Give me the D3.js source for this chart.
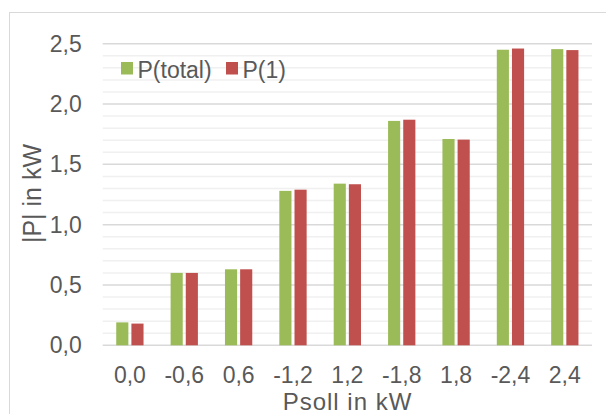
<!DOCTYPE html>
<html>
<head>
<meta charset="utf-8">
<script src="https://cdn.jsdelivr.net/npm/d3@7"></script>
<style>
  html, body { margin: 0; padding: 0; background: #fff; }
  svg { display: block; }
  text { font-family: "Liberation Sans", Arial, sans-serif; fill: #595959; }
</style>
</head>
<body>
<svg id="chart" width="606" height="414"></svg>
<script>
const categories = ["0,0", "-0,6", "0,6", "-1,2", "1,2", "-1,8", "1,8", "-2,4", "2,4"];
const seriesNames = ["P(total)", "P(1)"];
const pTotal = [0.19, 0.60, 0.63, 1.28, 1.34, 1.86, 1.71, 2.45, 2.455];
const p1     = [0.18, 0.60, 0.63, 1.29, 1.335, 1.87, 1.705, 2.46, 2.447];
const yTicks = [0, 0.5, 1.0, 1.5, 2.0, 2.5];
const xTitle = "Psoll in kW";
const yTitle = "|P| in kW";
const colors = ["#9BBB59", "#C0504D"];

const svg = d3.select("#chart");
const plotLeft = 102.7, plotRight = 592, plotTop = 43.7, plotBottom = 345.3;

// outer border
svg.append("rect").attr("x", 9.5).attr("y", 12.5).attr("width", 700).attr("height", 500)
  .attr("fill", "none").attr("stroke", "#d9d9d9").attr("stroke-width", 1);

const x0 = d3.scaleBand().domain(categories).range([plotLeft, plotRight]).padding(0);
const groupW = 27.3;
const x1 = d3.scaleBand().domain(seriesNames)
  .range([(x0.bandwidth() - groupW) / 2, (x0.bandwidth() + groupW) / 2])
  .paddingInner(0.2).paddingOuter(0);
const y = d3.scaleLinear().domain([0, 2.5]).range([plotBottom, plotTop]);

// minor gridlines
const minor = d3.range(1, 25).map(d => d / 10).filter(d => Math.abs(d * 2 - Math.round(d * 2)) > 1e-6);
svg.append("g").selectAll("line").data(minor).join("line")
  .attr("x1", plotLeft).attr("x2", plotRight)
  .attr("y1", d => y(d)).attr("y2", d => y(d))
  .attr("stroke", "#f0f0f0").attr("stroke-width", 1.5);

// major gridlines
svg.append("g").selectAll("line").data(yTicks).join("line")
  .attr("x1", plotLeft).attr("x2", plotRight)
  .attr("y1", d => y(d)).attr("y2", d => y(d))
  .attr("stroke", "#d9d9d9").attr("stroke-width", 1.5);

// bars
const rows = categories.map((c, i) => ({ cat: c, vals: [pTotal[i], p1[i]] }));
const groups = svg.append("g").selectAll("g").data(rows).join("g")
  .attr("transform", d => `translate(${x0(d.cat)},0)`);
groups.selectAll("rect").data(d => d.vals.map((v, j) => ({ name: seriesNames[j], v, j })))
  .join("rect")
  .attr("x", d => x1(d.name))
  .attr("width", x1.bandwidth())
  .attr("y", d => y(d.v))
  .attr("height", d => y(0) - y(d.v))
  .attr("fill", d => colors[d.j]);

// y axis labels
const fmt = d => d3.format(".1f")(d).replace(".", ",");
const yAxis = d3.axisLeft(y).tickValues(yTicks).tickFormat(fmt).tickSize(0).tickPadding(21);
const yg = svg.append("g").attr("transform", `translate(${plotLeft},0)`).call(yAxis);
yg.select(".domain").remove();
yg.selectAll("text").attr("font-size", 23).attr("fill", "#595959")
  .style("font-family", "'Liberation Sans', Arial, sans-serif");

// x axis labels
const xAxis = d3.axisBottom(x0).tickSize(0).tickPadding(21);
const xg = svg.append("g").attr("transform", `translate(0,${plotBottom})`).call(xAxis);
xg.select(".domain").remove();
xg.selectAll("text").attr("font-size", 23).attr("fill", "#595959")
  .style("font-family", "'Liberation Sans', Arial, sans-serif");

// axis titles
svg.append("text").attr("x", 347.5).attr("y", 409.5)
  .attr("text-anchor", "middle").attr("font-size", 24).attr("letter-spacing", 1).text(xTitle);
svg.append("text").attr("transform", `translate(41,${(plotTop + plotBottom) / 2 - 1}) rotate(-90)`)
  .attr("text-anchor", "middle").attr("font-size", 25).text(yTitle);

// legend
const legendItems = [
  { name: seriesNames[0], color: colors[0], x: 121 },
  { name: seriesNames[1], color: colors[1], x: 226 }
];
const lg = svg.append("g").selectAll("g").data(legendItems).join("g")
  .attr("transform", d => `translate(${d.x},62)`);
lg.append("rect").attr("width", 12).attr("height", 12.5).attr("fill", d => d.color);
lg.append("text").attr("x", 16.5).attr("y", 16).attr("font-size", 23).text(d => d.name);
</script>
</body>
</html>
